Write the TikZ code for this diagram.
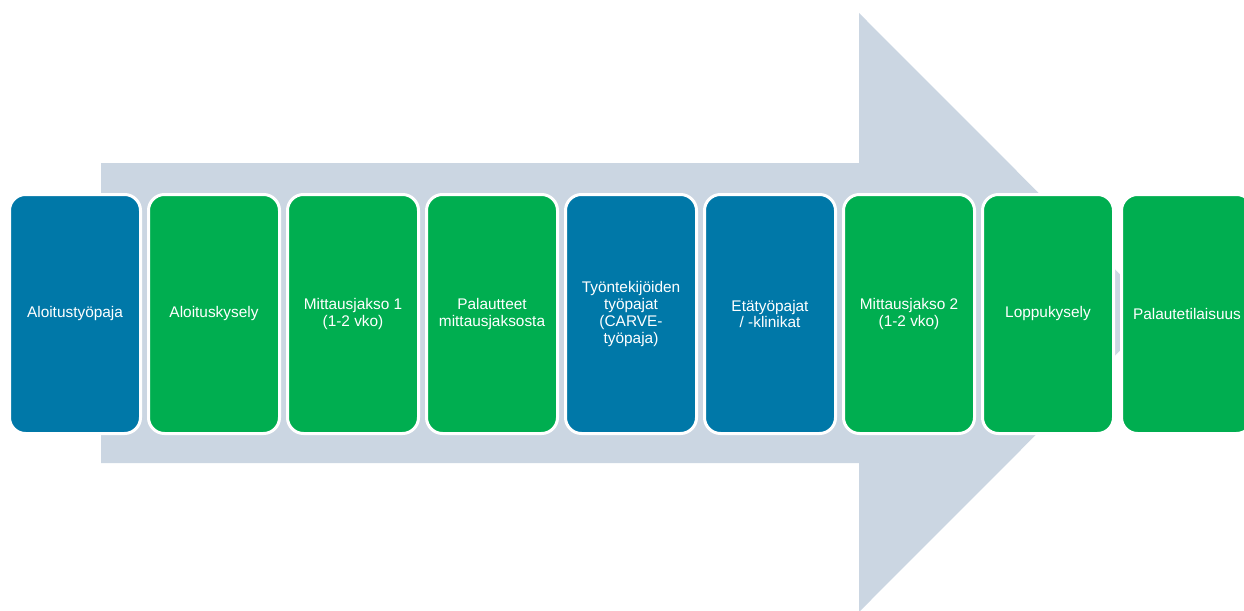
\documentclass[tikz,border=0pt]{standalone}
\usepackage{fontspec}
\setmainfont{Liberation Sans}
\usetikzlibrary{positioning}
\definecolor{phaseblue}{RGB}{0,120,168}
\definecolor{phasegreen}{RGB}{0,174,80}
\definecolor{arrowgrey}{RGB}{203,214,226}

\begin{document}
\begin{tikzpicture}[x=1pt,y=-1pt,
        phase/.style={rectangle,rounded corners=16pt,draw=white,line width=3pt,
            minimum width=131pt,minimum height=239pt,inner sep=2pt,align=center,
            text=white,font=\fontsize{15.4}{16.7}\selectfont},
        bluephase/.style={phase,fill=phaseblue},
        greenphase/.style={phase,fill=phasegreen},
        node distance=5pt]
            \useasboundingbox (0,0) rectangle (1244,610);

            %arrow
            \fill[arrowgrey] (101,163) -- (859,163) -- (859,13) -- (1158,312.5)
                -- (859,612) -- (859,463) -- (101,463) -- cycle;

            %phases
            \node[bluephase] (workshop) at (75,314) {Aloitustyöpaja};

            \node[greenphase, right=of workshop] (survey) {Aloituskysely};

            \node[greenphase, right=of survey] (period1) {Mittausjakso 1\\(1-2 vko)};

            \node[greenphase, right=of period1] (feedback) {Palautteet\\mittausjaksosta};

            \node[bluephase, right=of feedback] (carve) {Työntekijöiden\\työpajat\\(CARVE-\\työpaja)};

            \node[bluephase, right=of carve] (remote) {Etätyöpajat\\/ -klinikat};

            \node[greenphase, right=of remote] (period2) {Mittausjakso 2\\(1-2 vko)};

            \node[greenphase, right=of period2] (endsurvey) {Loppukysely};

            \node[greenphase, right=of endsurvey] (session) {Palautetilaisuus};
        \end{tikzpicture}
\end{document}
